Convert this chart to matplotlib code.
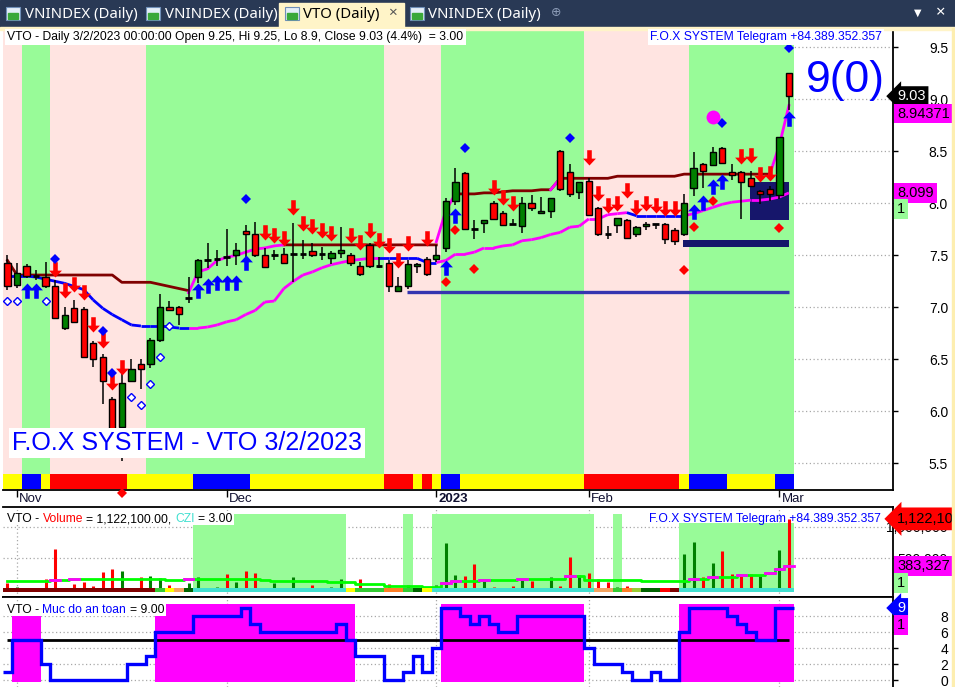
import numpy as np
import matplotlib
matplotlib.use("Agg")
import matplotlib.pyplot as plt
from matplotlib.path import Path
from matplotlib.patches import Rectangle
from matplotlib.collections import LineCollection

plt.rcParams['font.family'] = ['Liberation Sans', 'DejaVu Sans']

nan = np.nan
W, H = 955, 687

# ---------------- data: VTO daily, 31 Oct 2022 .. 2 Mar 2023 ----------------
opens = [7.43, 7.21, 7.40, 7.30, 7.29, 7.20, 6.80, 6.99, 6.98, 6.66,
         6.52, 6.12, 5.85, 6.29, 6.45, 6.45, 6.69, 7.00, 7.00, 7.09,
         7.29, 7.45, 7.46, 7.48, 7.50, 7.73, 7.70, 7.50, 7.50, 7.51,
         7.51, 7.51, 7.54, 7.51, 7.47, 7.52, 7.50, 7.40, 7.60, 7.40,
         7.43, 7.16, 7.20, 7.40, 7.46, 7.46, 7.57, 8.02, 8.29, 7.75,
         7.81, 8.00, 7.91, 7.80, 7.78, 8.00, 7.91, 7.93, 8.50, 8.30,
         8.11, 8.21, 7.95, 7.70, 7.79, 7.84, 7.70, 7.78, 7.80, 7.80,
         7.74, 7.70, 8.15, 8.38, 8.37, 8.53, 8.30, 8.30, 8.24, 8.12,
         8.14, 8.08, 9.25]
highs = [7.50, 7.43, 7.42, 7.36, 7.44, 7.26, 7.00, 7.07, 7.00, 6.68,
         6.55, 6.14, 6.38, 6.50, 6.50, 6.70, 7.13, 7.06, 7.01, 7.29,
         7.46, 7.62, 7.55, 7.75, 7.62, 7.79, 7.82, 7.57, 7.55, 7.57,
         7.81, 7.65, 7.62, 7.58, 7.54, 7.77, 7.52, 7.44, 7.62, 7.48,
         7.45, 7.29, 7.45, 7.43, 7.48, 7.60, 8.05, 8.34, 8.30, 7.84,
         7.84, 8.02, 7.93, 7.85, 8.06, 8.08, 8.06, 8.05, 8.51, 8.38,
         8.20, 8.24, 7.96, 7.78, 7.86, 7.85, 7.78, 7.82, 7.80, 7.81,
         7.76, 8.09, 8.49, 8.39, 8.54, 8.54, 8.38, 8.31, 8.31, 8.13,
         8.17, 8.64, 9.25]
lows = [7.17, 7.19, 7.28, 7.26, 7.19, 6.89, 6.78, 6.85, 6.51, 6.43,
        6.07, 5.78, 5.52, 6.28, 6.21, 6.42, 6.67, 6.96, 6.83, 7.04,
        7.23, 7.38, 7.40, 7.40, 7.41, 7.45, 7.48, 7.38, 7.45, 7.42,
        7.24, 7.46, 7.48, 7.45, 7.42, 7.47, 7.40, 7.30, 7.38, 7.38,
        7.15, 7.15, 7.18, 7.33, 7.30, 7.44, 7.53, 7.98, 7.74, 7.66,
        7.71, 7.84, 7.78, 7.80, 7.71, 7.93, 7.90, 7.86, 8.12, 8.06,
        8.04, 7.88, 7.69, 7.66, 7.71, 7.66, 7.68, 7.74, 7.75, 7.61,
        7.60, 7.69, 8.07, 8.15, 8.36, 8.38, 8.22, 7.85, 8.17, 7.99,
        8.02, 8.04, 8.90]
closes = [7.20, 7.33, 7.30, 7.30, 7.20, 6.90, 6.93, 6.86, 6.52, 6.50,
          6.29, 5.80, 6.27, 6.41, 6.41, 6.69, 7.00, 6.97, 6.94, 7.09,
          7.45, 7.45, 7.46, 7.48, 7.55, 7.70, 7.50, 7.39, 7.50, 7.43,
          7.51, 7.51, 7.50, 7.51, 7.52, 7.55, 7.43, 7.32, 7.40, 7.40,
          7.20, 7.20, 7.42, 7.42, 7.32, 7.50, 8.02, 8.20, 7.75, 7.75,
          7.84, 7.85, 7.79, 7.80, 8.00, 7.95, 7.93, 8.05, 8.14, 8.09,
          8.20, 7.89, 7.70, 7.70, 7.86, 7.67, 7.77, 7.80, 7.80, 7.66,
          7.64, 8.00, 8.34, 8.31, 8.49, 8.39, 8.27, 8.20, 8.17, 8.09,
          8.09, 8.64, 9.03]

date_idx = [1, 23, 45, 61, 81]
date_lbl = ['Nov', 'Dec', '2023', 'Feb', 'Mar']

# resistance (dark red), fast stop (magenta), slow stop (blue/magenta)
resist = [7.45, 7.31, 7.31, 7.31, 7.31, 7.31, 7.31, 7.31, 7.31, 7.31,
          7.31, 7.31, 7.24, 7.24, 7.24, 7.24, 7.22, 7.20, 7.18, 7.16,
          nan, nan, nan, nan, nan, nan, nan, nan, nan, 7.60,
          7.60, 7.60, 7.60, 7.60, 7.60, 7.60, 7.60, 7.60, 7.60, 7.60,
          7.60, 7.60, 7.60, 7.60, 7.60, 7.60, nan, 8.09, 8.09, 8.09,
          8.10, 8.10, 8.11, 8.12, 8.12, 8.12, 8.13, 8.13, 8.24, 8.24,
          8.24, 8.24, 8.24, 8.24, 8.26, 8.26, 8.26, 8.26, 8.26, 8.26,
          8.26, 8.28, 8.28, 8.28, 8.28, 8.28, 8.28, 8.28, 8.28, 8.28,
          8.28, nan, nan]
fast = [nan, nan, nan, nan, nan, nan, nan, nan, nan, nan,
        nan, nan, nan, nan, nan, nan, nan, nan, nan, 7.14,
        7.34, 7.37, 7.45, 7.48, 7.50, 7.53, 7.56, 7.57, 7.59, 7.60,
        nan, nan, nan, nan, nan, nan, nan, nan, nan, nan,
        nan, nan, nan, nan, nan, 7.63, 7.93, 8.09, nan, nan,
        nan, nan, nan, nan, nan, nan, nan, 8.13, 8.24, nan,
        nan, nan, nan, nan, nan, nan, nan, nan, nan, nan,
        nan, nan, nan, nan, nan, nan, nan, nan, nan, nan,
        8.28, 8.56, 8.94]
slow = [7.30, 7.30, 7.30, 7.29, 7.27, 7.25, 7.23, 7.20, 7.17, 7.07,
        6.99, 6.93, 6.88, 6.83, 6.82, 6.82, 6.82, 6.81, 6.80, 6.80,
        6.80, 6.81, 6.83, 6.86, 6.88, 6.93, 6.97, 7.05, 7.06, 7.18,
        7.25, 7.31, 7.34, 7.38, 7.41, 7.43, 7.45, 7.46, 7.47, 7.47,
        7.47, 7.47, 7.47, 7.47, 7.43, 7.43, 7.45, 7.51, 7.51, 7.53,
        7.57, 7.57, 7.59, 7.60, 7.64, 7.65, 7.67, 7.70, 7.72, 7.77,
        7.78, 7.85, 7.85, 7.89, 7.90, 7.91, 7.88, 7.88, 7.88, 7.88,
        7.88, 7.88, 7.90, 7.93, 7.96, 7.99, 8.01, 8.02, 8.03, 8.03,
        8.04, 8.06, 8.10]
slow_up = ("0000000000" "0000000000" "1111111111" "1111111111"
           "0000001111" "1111111111" "1111110000" "0011111111" "111")

# signals
sell_idx = [5, 6, 7, 8, 9, 10, 11, 12, 27, 28, 29, 30, 31, 32, 33, 34, 36, 37, 38, 39,
            40, 41, 42, 44, 51, 52, 53, 61, 62, 63, 64, 65, 66, 67, 68, 69, 70, 77, 78, 79, 80]
sell_px = [7.29, 7.09, 7.15, 7.07, 6.76, 6.61, 6.20, 6.35, 7.65, 7.62, 7.59, 7.89, 7.73, 7.70,
           7.67, 7.64, 7.62, 7.55, 7.67, 7.57, 7.52, 7.38, 7.54, 7.59, 8.08, 7.98, 7.93, 8.37,
           8.02, 7.91, 7.93, 8.05, 7.89, 7.93, 7.91, 7.88, 7.88, 8.38, 8.39, 8.20, 8.21]
buy_idx = [2, 3, 20, 21, 22, 23, 24, 25, 46, 47, 72, 73, 74, 75, 82]
buy_px = [7.23, 7.23, 7.23, 7.28, 7.31, 7.31, 7.31, 7.50, 7.45, 7.95, 7.99, 8.08, 8.23, 8.28, 8.89]
top_dot_idx = [5, 10, 11, 25, 48, 59, 75, 82]
top_dot_px = [7.46, 6.77, 6.37, 8.04, 8.53, 8.63, 8.77, 9.49]
low_dot_idx = [12, 46, 47, 49, 71, 72, 74, 81]
low_dot_px = [5.21, 7.24, 7.74, 7.37, 7.36, 7.77, 8.02, 7.76]
ring_idx = [0, 1, 4, 13, 14, 15, 16, 17]
ring_px = [7.06, 7.06, 7.06, 6.14, 6.06, 6.26, 6.52, 6.82]
pink_dot = (74, 8.83)

support_start, support_end, support_lo, support_hi = 71, 82, 7.58, 7.65
box_start, box_end, box_lo, box_hi = 78, 82, 7.84, 8.20
stop_start, stop_end, stop_level = 42, 82, 7.15

band_state = ("0011100000" "0000011111" "1111111111" "1111111111"
              "0000001111" "1111111111" "1000000000" "0011111111" "111")
trend_strip = ("YYBBYRRRRR" "RRRYYYYYYY" "BBBBBBYYYY" "YYYYYYYYYY"
               "RRRYRYBBYY" "YYYYYYYYYY" "YRRRRRRRRR" "RYBBBBYYYY" "YBB")

# volume panel
volume = [106000, 50000, 30000, 11000, 180000, 651000, 11000, 90000, 123000, 67000,
          286000, 331000, 303000, 11000, 202000, 219000, 195000, 79000, 22000, 118000,
          202000, 15000, 50000, 247000, 123000, 303000, 275000, 34000, 106000, 11000,
          202000, 34000, 79000, 34000, 50000, 180000, 22000, 180000, 11000, 5000,
          90000, 22000, 79000, 8000, 8000, 79000, 741000, 236000, 219000, 404000,
          180000, 50000, 5000, 67000, 163000, 146000, 11000, 202000, 67000, 517000,
          236000, 275000, 180000, 123000, 50000, 67000, 22000, 5000, 5000, 5000,
          5000, 573000, 763000, 202000, 426000, 612000, 258000, 247000, 247000, 219000,
          5000, 623000, 1122100]
vol_dir = ("rgrrrrgrrr" "rrggrggrrg" "gggrgrrrgr" "grrgggrrgg"
           "rrggrgggrr" "grrrgrggrr" "grrrgrggrr" "rggrgrrrrg" "rgr")
vol_ma = [135000, 135000, 135000, 135000, 135000, 163000, 163000, 180000, 180000, 180000,
          180000, 180000, 180000, 180000, 180000, 180000, 180000, 163000, 163000, 180000,
          180000, 180000, 180000, 180000, 180000, 180000, 180000, 163000, 135000, 135000,
          135000, 135000, 135000, 135000, 123000, 123000, 123000, 95000, 95000, 95000,
          67000, 67000, 67000, 67000, 50000, 50000, 106000, 146000, 146000, 146000,
          163000, 163000, 163000, 163000, 180000, 180000, 180000, 180000, 180000, 219000,
          219000, 163000, 163000, 163000, 163000, 163000, 163000, 135000, 135000, 135000,
          135000, 135000, 180000, 180000, 208000, 208000, 208000, 230000, 230000, 230000,
          275000, 331000, 383327]
czi_strip = ("DDDDDDDDDD" "DDDDDDGYPK" "CCCCCCCCCC" "CCCCCCYGGG"
             "OOGKYCCCCC" "CCCCCCCCCC" "CCPPGOLKKR" "DCCCCCCCCC" "CCC")
vol_zone_runs = [(20, 35), (42, 42), (45, 61), (64, 64), (71, 82)]
vol_zone_top = [1199000, 1199000, 1199000, 1199000, 1052000]

# safety level panel
safety = [1, 5, 5, 5, 2, 0, 0, 0, 0, 0,
          0, 0, 0, 2, 2, 3, 6, 6, 6, 6,
          8, 8, 8, 8, 8, 9, 7, 6, 6, 6,
          6, 6, 6, 6, 6, 7, 5, 3, 3, 3,
          0, 0, 1, 3, 1, 4, 9, 9, 8, 7,
          8, 7, 6, 6, 8, 8, 8, 8, 8, 8,
          8, 4, 2, 2, 2, 1, 0, 0, 1, 0,
          0, 6, 9, 9, 9, 9, 8, 7, 6, 5,
          5, 9, 9]
safe_runs = [(1, 3), (16, 36), (46, 60), (71, 82)]
safe_top = [8.25, 9.5, 9.5, 9.5]
safe_line = 5

# ---------------- helpers ----------------
def runs(seq):
    out, start = [], 0
    for i in range(1, len(seq) + 1):
        if i == len(seq) or seq[i] != seq[start]:
            out.append((start, i - 1, seq[start]))
            start = i
    return out


def prect(x0, y0, x1, y1, **kw):
    fig.add_artist(Rectangle((x0 / W, 1 - y1 / H), (x1 - x0) / W, (y1 - y0) / H,
                             transform=fig.transFigure, **kw))


def ptext(x, y, s, **kw):
    return fig.text(x / W, 1 - y / H, s, **kw)


def measure(s, size, weight='normal'):
    t = fig.text(0, 0, s, fontsize=size, weight=weight)
    w = t.get_window_extent(fig.canvas.get_renderer()).width
    t.remove()
    return w


def multitext(x, y, pieces, size):
    full = ' '.join(p for p, _ in pieces)
    prect(x - 3, y - 11, x + measure(full, size) + 2, y + 3, color='white', zorder=11, lw=0)
    acc = ''
    for k, (s, c) in enumerate(pieces):
        acc = s if k == 0 else acc + ' ' + s
        xs = x + measure(acc, size) - measure(s, size)
        ptext(xs, y, s, color=c, fontsize=size, va='baseline', ha='left', zorder=12)


def arrow_marker(up):
    v = [(-0.15, 1), (0.15, 1), (0.15, 0.45), (0.42, 0.45), (0, 0),
         (-0.42, 0.45), (-0.15, 0.45), (-0.15, 1)]
    if up:
        v = [(a, -b) for a, b in v]
    return Path(v + [(0, 0)], [Path.MOVETO] + [Path.LINETO] * 7 + [Path.CLOSEPOLY])


# ---------------- figure ----------------
fig = plt.figure(figsize=(W / 100, H / 100), dpi=100)
fig.patch.set_facecolor('white')

ax1 = fig.add_axes([3 / W, 1 - 490 / H, 890 / W, 460 / H])
ax2 = fig.add_axes([3 / W, 1 - 597 / H, 890 / W, 90 / H])
ax3 = fig.add_axes([3 / W, 0, 890 / W, 90 / H])

xlim = (-0.47, 92.92)
grid_kw = dict(color='#a8a8a8', linestyle=(0, (1, 2)), linewidth=0.9)
for ax in (ax1, ax2, ax3):
    ax.set_xlim(*xlim)
    ax.set_axisbelow(True)
    ax.set_xticks(date_idx)
    ax.grid(True, **grid_kw)
    ax.yaxis.tick_right()
    ax.tick_params(axis='y', direction='out', length=3.6, width=1, pad=36, labelsize=10)
    for sp in ('left', 'top', 'bottom', 'right'):
        ax.spines[sp].set_linewidth(1.3)
    ax.spines['left'].set_visible(False)

# ---- main price panel ----
ax1.set_ylim(5.243, 9.666)
strip_lo, strip_hi = 1 / 460, 16 / 460
band_col = {'1': '#98fb98', '0': '#ffe4e1'}
for a, b, s in runs(band_state):
    ax1.axvspan(a - 0.5, b + 0.5, ymin=strip_hi, ymax=1, color=band_col[s], lw=0, zorder=0.7)
trend_col = {'Y': '#ffff00', 'B': '#0000ff', 'R': '#ff0000'}
for a, b, s in runs(trend_strip):
    ax1.axvspan(a - 0.5, b + 0.5, ymin=strip_lo, ymax=strip_hi, color=trend_col[s], lw=0, zorder=0.8)

ax1.add_patch(Rectangle((support_start - 0.1, support_lo), support_end - support_start + 0.1,
                        support_hi - support_lo, color='#16166b', lw=0, zorder=2))
ax1.add_patch(Rectangle((box_start - 0.1, box_lo), box_end - box_start + 0.1,
                        box_hi - box_lo, color='#16166b', lw=0, zorder=2))
ax1.hlines(stop_level, stop_start - 0.05, stop_end, color='#3535b0', lw=2.4, zorder=2)

x = np.arange(len(closes))
ax1.plot(x, resist, color='#800000', lw=2, zorder=2.2)
ax1.plot(x, fast, color='#ff00ff', lw=2, zorder=2.3)
segs, cols = [], []
for i in range(1, len(slow)):
    segs.append([(i - 1, slow[i - 1]), (i, slow[i])])
    cols.append('#ff00ff' if slow_up[i] == '1' else '#0000ff')
ax1.add_collection(LineCollection(segs, colors=cols, linewidths=2, zorder=2.4))

for i, (o, h, l, c) in enumerate(zip(opens, highs, lows, closes)):
    ax1.vlines(i, l, h, color='black', lw=1.1, zorder=3)
    if abs(c - o) < 1e-9:
        ax1.hlines(o, i - 0.34, i + 0.34, color='black', lw=2, zorder=4)
    else:
        ax1.add_patch(Rectangle((i - 0.33, min(o, c)), 0.66, abs(c - o),
                                facecolor='#008000' if c > o else '#ff0000',
                                edgecolor='black', lw=1, zorder=4))

ax1.plot(sell_idx, sell_px, ls='none', marker=arrow_marker(False), ms=22,
         color='#ff0000', mew=0, zorder=5)
ax1.plot(buy_idx, buy_px, ls='none', marker=arrow_marker(True), ms=22,
         color='#0000ff', mew=0, zorder=5)
ax1.plot(top_dot_idx, top_dot_px, ls='none', marker='D', ms=4.8, color='#0000ff', mew=0, zorder=5)
ax1.plot(low_dot_idx, low_dot_px, ls='none', marker='D', ms=4.8, color='#ff0000', mew=0,
         zorder=5, clip_on=False)
ax1.plot(ring_idx, ring_px, ls='none', marker='D', ms=4, mfc='white', mec='#0000ff', mew=1, zorder=5)
ax1.plot(*pink_dot, ls='none', marker='o', ms=10, color='#ff00ff', mew=0, zorder=5)

ax1.set_yticks(np.arange(5.5, 9.51, 0.5))
ax1.set_yticklabels(['%.1f' % v for v in np.arange(5.5, 9.51, 0.5)])
ax1.spines['top'].set_visible(False)
ax1.tick_params(axis='x', direction='out', length=5, width=1, labelbottom=False)
for i, lbl in zip(date_idx, date_lbl):
    ax1.annotate(lbl, xy=(i, 0), xycoords=('data', 'axes fraction'), xytext=(2, -12),
                 textcoords='offset pixels', ha='left', va='baseline', fontsize=9.5,
                 weight='bold' if lbl == '2023' else 'normal', color='#101030')

# ---- volume panel ----
ax2.set_ylim(-110400, 1309000)
for (a, b), top in zip(vol_zone_runs, vol_zone_top):
    ax2.add_patch(Rectangle((a - 0.5, -27000), b - a + 1, top + 27000, color='#98fb98', lw=0, zorder=0.7))
ax2.vlines(x, 0, volume, colors=['#ff0000' if d == 'r' else '#008000' for d in vol_dir],
           lw=2.2, zorder=2)
ax2.plot(x, vol_ma, color='#00ff00', lw=2, drawstyle='steps-mid', zorder=3)
for i in range(1, len(vol_ma)):
    if vol_ma[i] > vol_ma[i - 1]:
        ax2.plot([i - 0.5, i + 0.5], [vol_ma[i], vol_ma[i]], color='#ff00ff', lw=2, zorder=3.1)
czi_col = {'D': '#800000', 'G': '#33cc33', 'Y': '#ffff00', 'P': '#f4a460', 'K': '#006400',
           'C': '#40e0d0', 'O': '#ff7f27', 'R': '#ff0000', 'L': '#9acd32'}
for a, b, s in runs(czi_strip):
    ax2.add_patch(Rectangle((a - 0.5, -27000), b - a + 1, 63000, color=czi_col[s], lw=0, zorder=4))
ax2.set_yticks([500000, 1000000])
ax2.set_yticklabels(['500,000', '1,000,000'])
ax2.tick_params(axis='x', length=0, labelbottom=False)

# ---- safety panel ----
ax3.set_ylim(-0.875, 10.375)
for (a, b), top in zip(safe_runs, safe_top):
    ax3.add_patch(Rectangle((a - 0.5, -0.2), b - a + 1, top + 0.2, color='#ff00ff', lw=0, zorder=0.7))
ax3.hlines(safe_line, 0, len(safety) - 1, color='black', lw=2, zorder=2)
ax3.stairs(safety, np.arange(len(safety) + 1) - 0.5, baseline=None, color='#0000ff', lw=2.4, zorder=3)
ax3.set_yticks([0, 2, 4, 6, 8])
ax3.tick_params(axis='x', length=0, labelbottom=False)
ax3.spines['bottom'].set_visible(False)

for ax in (ax1, ax2, ax3):
    for t in ax.get_yticklabels():
        t.set_horizontalalignment('right')

# ---- value labels on the right axis ----
def axis_label(ax, val, s, fc, tc, dy=0, style='square', pad=0.2):
    ax.annotate(s, xy=(1, val), xycoords=('axes fraction', 'data'), xytext=(4, dy),
                textcoords='offset pixels', ha='left', va='center', fontsize=10.5, color=tc,
                annotation_clip=False, zorder=20,
                bbox=dict(boxstyle='%s,pad=%s' % (style, pad), fc=fc, ec='none'))

axis_label(ax1, closes[-1], '9.03', 'black', 'white', style='larrow')
axis_label(ax1, fast[-1], '8.94371', '#ff00ff', 'black', dy=-8)
axis_label(ax1, slow[-1], '8.099', '#ff00ff', 'black')
axis_label(ax1, slow[-1], '1', '#98fb98', 'black', dy=-16)
axis_label(ax2, volume[-1], '1,122,100', '#ff0000', 'black', style='larrow', pad=0.3)
axis_label(ax2, vol_ma[-1], '383,327', '#ff00ff', 'black')
axis_label(ax2, vol_ma[-1], '1', '#98fb98', 'black', dy=-17)
axis_label(ax3, safety[-1], '9', '#0000ff', 'white', style='larrow')
axis_label(ax3, safety[-1], '1', '#ff00ff', 'black', dy=-17)

# ---- texts ----
hdr = 8.7
ptext(7, 40, 'VTO - Daily 3/2/2023 00:00:00 Open 9.25, Hi 9.25, Lo 8.9, Close 9.03 (4.4%)  = 3.00',
      fontsize=hdr, va='baseline', zorder=12,
      bbox=dict(boxstyle='square,pad=0.2', fc='white', ec='none'))
ptext(882, 40, 'F.O.X SYSTEM Telegram +84.389.352.357', fontsize=hdr, color='#0000ff',
      ha='right', va='baseline', zorder=12,
      bbox=dict(boxstyle='square,pad=0.2', fc='white', ec='none'))
ptext(12, 450, 'F.O.X SYSTEM - VTO 3/2/2023', fontsize=18, color='#0000ff', va='baseline',
      zorder=12, bbox=dict(boxstyle='square,pad=0.12', fc='white', ec='none'))
ptext(845, 92, '9(0)', fontsize=32, color='#0000ff', ha='center', va='baseline', zorder=12)
multitext(7, 522, [('VTO -', 'black'), ('Volume', '#ff0000'), ('= 1,122,100.00,', 'black'),
                   ('CZI', '#40e0d0'), ('= 3.00', 'black')], hdr)
ptext(881, 522, 'F.O.X SYSTEM Telegram +84.389.352.357', fontsize=hdr, color='#0000ff',
      ha='right', va='baseline', zorder=12)
multitext(7, 613, [('VTO -', 'black'), ('Muc do an toan', '#0000ff'), ('= 9.00', 'black')], hdr)

# ---- tab bar ----
prect(0, 0, W, 28, color='#293955', zorder=1)
prect(0, 27, W, 30, color='#fff4c8', zorder=1)
prect(279, 3, 404, 28, color='#fff4c8', zorder=1)
prect(952, 28, W, H, color='#fdeeb0', zorder=1)
for ix in (6, 146, 285, 410):
    prect(ix, 7, ix + 14, 20, fc='#e4eef8', ec='#6f8fb8', lw=0.8, zorder=2)
    prect(ix + 2, 13, ix + 12, 19, color='#3aa83a', zorder=3)
tab_font = ['Noto Sans', 'DejaVu Sans']
ptext(25, 14, 'VNINDEX (Daily)', color='white', fontsize=10.8, va='center', family=tab_font)
ptext(165, 14, 'VNINDEX (Daily)', color='white', fontsize=10.8, va='center', family=tab_font)
ptext(303, 14, 'VTO (Daily)', color='black', fontsize=10.8, va='center', weight='bold', family=tab_font)
ptext(392, 13, '\u00d7', color='#555555', fontsize=11, va='center', ha='center', family=tab_font)
ptext(428, 14, 'VNINDEX (Daily)', color='white', fontsize=10.8, va='center', family=tab_font)
ptext(556, 13, '\u2295', color='#8a9ab5', fontsize=9, va='center', ha='center', family=['DejaVu Sans'])
ptext(918, 13, '\u25bc', color='white', fontsize=7, va='center', ha='center', family=['DejaVu Sans'])
ptext(941, 13, '\u00d7', color='white', fontsize=12, va='center', ha='center', family=tab_font)

fig.savefig('out.png', dpi=100)
